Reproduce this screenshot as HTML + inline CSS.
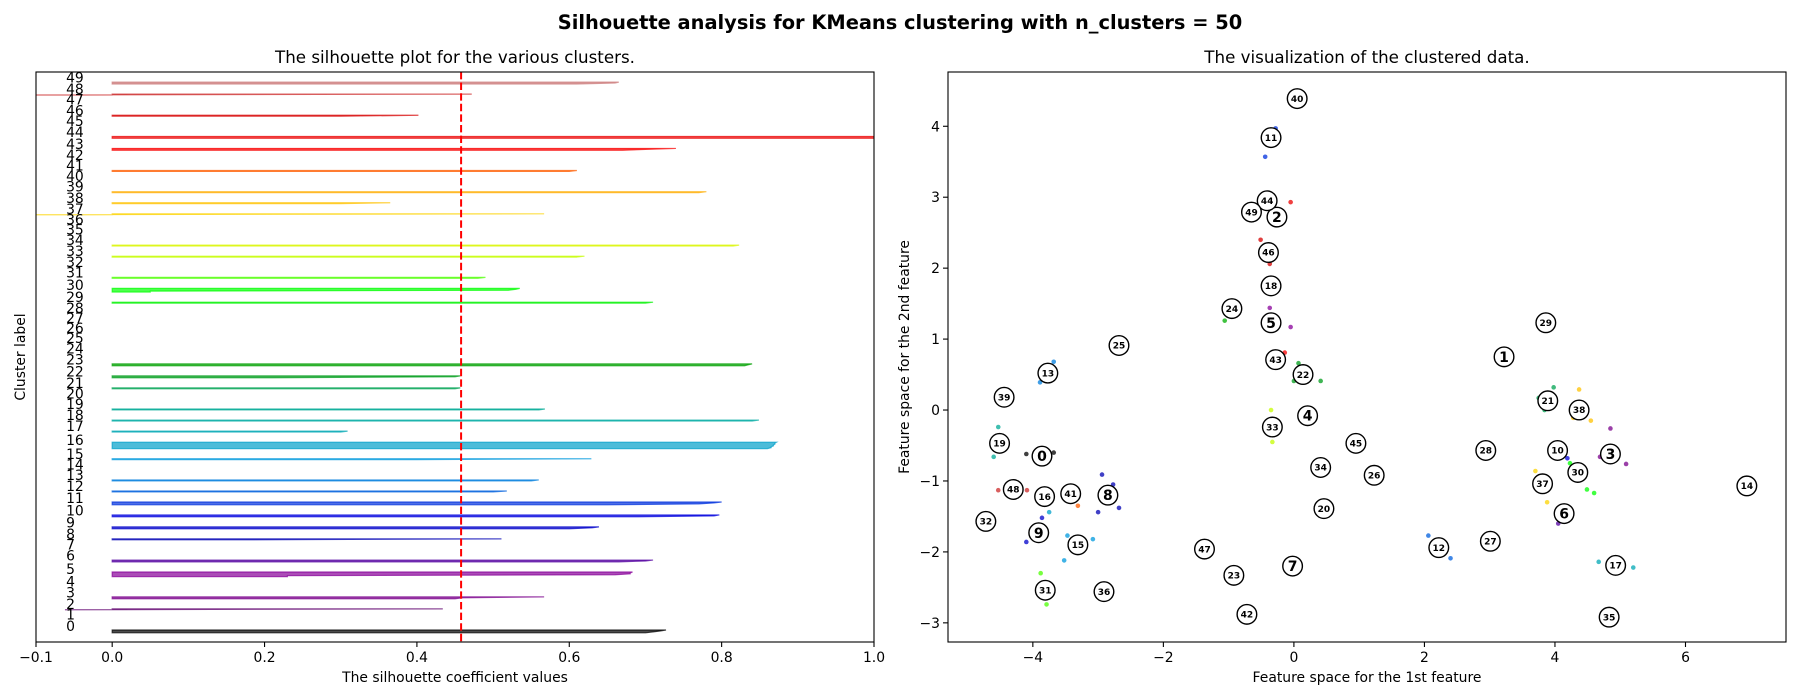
<!DOCTYPE html>
<html><head><meta charset="utf-8"><style>
html,body{margin:0;padding:0;background:#fff;}
svg{display:block;font-family:"DejaVu Sans","Liberation Sans",sans-serif;}
</style></head><body>
<svg id="fig" width="1800" height="700" viewBox="0 0 1800 700" xmlns="http://www.w3.org/2000/svg">
<defs>
<clipPath id="clipL"><rect x="36" y="72" width="838" height="570"/></clipPath>
<clipPath id="clipR"><rect x="948" y="72" width="838" height="570"/></clipPath>
</defs>
<text x="900" y="29" text-anchor="middle" font-size="19.4" font-weight="bold">Silhouette analysis for KMeans clustering with n_clusters = 50</text>
<text x="455" y="63" text-anchor="middle" font-size="16.7">The silhouette plot for the various clusters.</text>
<text x="1367" y="63" text-anchor="middle" font-size="16.7">The visualization of the clustered data.</text>
<g id="left"></g>
<g id="right"></g>
<text x="455" y="682" text-anchor="middle" font-size="13.9">The silhouette coefficient values</text>
<text x="1367" y="682" text-anchor="middle" font-size="13.9">Feature space for the 1st feature</text>
<text transform="translate(25,357) rotate(-90)" text-anchor="middle" font-size="13.9">Cluster label</text>
<text transform="translate(909,357) rotate(-90)" text-anchor="middle" font-size="13.9">Feature space for the 2nd feature</text>
</svg>
<script>
// ---- silhouette data (sorted values per cluster) ----
const clusterIds = [...Array(50).keys()];
const silValues = [
[0.70,0.71,0.72,0.727],[0],[-0.062,0.434],[0.45,0.46,0.567],[0],
[0.23,0.23,0.66,0.68,0.68,0.683],[0.665,0.70,0.71],[0],[0.18,0.511],[0.60,0.63,0.639],
[0.69,0.79,0.797],[0.65,0.77,0.79,0.80],[0.50,0.518],[0.55,0.56],[0],
[0.40,0.629],[0.86,0.865,0.865,0.868,0.868,0.87,0.87,0.872],[0.30,0.309],[0.84,0.849],[0.56,0.568],
[0],[0.45,0.457],[0.21,0.45,0.457],[0.83,0.835,0.84],[0],
[0],[0],[0],[0],[0.70,0.71],
[0.05,0.05,0.52,0.53,0.535],[0.48,0.49],[0],[0.61,0.62],[0.815,0.823],
[0],[0],[-0.1,0.567],[0.30,0.365],[0.77,0.78],
[0],[0.60,0.61],[0],[0.67,0.70,0.74],[1.05,1.05,1.05],
[0],[0.30,0.402],[0],[-0.1,0.472],[0.61,0.66,0.665]
];
const silAverage = 0.458;
const silTicks = [-0.1,0,0.2,0.4,0.6,0.8,1.0];
const silTickLabels = ["\u22120.1","0.0","0.2","0.4","0.6","0.8","1.0"];

// ---- scatter data ----
const centerX = [-3.86,3.22,-0.26,4.85,0.21,-0.35,4.14,-0.02,-2.85,-3.91,4.04,-0.35,2.22,-3.77,6.94,-3.31,-3.82,4.93,-0.35,-4.51,0.46,3.89,0.14,-0.92,-0.95,-2.68,1.23,3.01,2.94,3.86,4.35,-3.81,-4.72,-0.33,0.41,4.83,-2.91,3.81,4.37,-4.44,0.05,-3.42,-0.72,-0.28,-0.41,0.95,-0.39,-1.37,-4.30,-0.65];
const centerY = [-0.65,0.75,2.72,-0.62,-0.08,1.23,-1.46,-2.20,-1.20,-1.73,-0.57,3.84,-1.94,0.52,-1.07,-1.90,-1.22,-2.19,1.75,-0.47,-1.39,0.13,0.50,-2.33,1.43,0.91,-0.92,-1.85,-0.57,1.23,-0.88,-2.54,-1.57,-0.24,-0.81,-2.92,-2.56,-1.04,0.0,0.18,4.39,-1.18,-2.88,0.71,2.95,-0.47,2.22,-1.96,-1.12,2.79];
const pointX = [-0.28,-0.44,-0.05,-0.51,-0.37,-0.37,-0.05,-1.06,-0.14,0.07,0.0,0.41,-3.68,-3.89,-4.53,-4.60,-4.10,-3.68,-0.35,-0.33,-4.53,-4.09,-3.75,-3.86,-4.10,-3.31,-2.94,-2.77,-2.68,-3.0,-3.47,-3.08,-3.52,-3.88,-3.79,2.06,2.40,3.84,4.28,4.37,4.55,4.85,4.69,5.09,4.19,4.23,3.70,3.88,4.49,4.60,4.05,4.67,5.20,3.75,3.98];
const pointY = [3.97,3.57,2.93,2.40,2.06,1.44,1.17,1.26,0.81,0.66,0.41,0.41,0.68,0.39,-0.24,-0.66,-0.62,-0.60,0.0,-0.45,-1.13,-1.13,-1.44,-1.52,-1.86,-1.35,-0.91,-1.05,-1.38,-1.44,-1.77,-1.82,-2.12,-2.30,-2.74,-1.77,-2.09,0.0,-0.11,0.29,-0.15,-0.26,-0.66,-0.76,-0.68,-0.75,-0.86,-1.30,-1.12,-1.17,-1.60,-2.14,-2.22,0.17,0.32];
const pointCluster = [11,11,44,46,46,5,5,24,43,22,22,22,13,13,19,19,0,0,33,33,48,48,16,9,9,41,8,8,8,8,15,15,15,31,31,12,12,21,38,38,38,3,3,3,10,30,37,37,30,30,6,17,17,21,21];
const xTicksR = [-4,-2,0,2,4,6];
const yTicksR = [-3,-2,-1,0,1,2,3,4];

// nipy_spectral colormap
const cmR=[0,0.4667,0.5333,0,0,0,0,0,0,0,0,0,0,0.7333,0.9333,1,1,1,0.8667,0.8,0.8];
const cmG=[0,0,0,0,0,0.4667,0.6,0.6667,0.6667,0.6,0.7333,0.8667,1,1,0.9333,0.8,0.6,0,0,0,0.8];
const cmB=[0,0.5333,0.6,0.6667,0.8667,0.8667,0.8667,0.6667,0.5333,0,0,0,0,0,0,0,0,0,0,0,0.8];
function cmap(t){const f=t*20,i=Math.min(19,Math.floor(f)),r=f-i;
 const c=a=>Math.round(255*(a[i]+(a[i+1]-a[i])*r));return `rgb(${c(cmR)},${c(cmG)},${c(cmB)})`;}

const NS="http://www.w3.org/2000/svg";
function mk(tag,attrs,parent){const e=document.createElementNS(NS,tag);for(const k in attrs)e.setAttribute(k,attrs[k]);parent.appendChild(e);return e;}

// ---------- LEFT ----------
const L=document.getElementById('left');
const LX0=36,LX1=874,TOP=72,BOT=642;
const nTot=silValues.reduce((s,v)=>s+v.length,0);
const yMax=nTot+(50+1)*10;
const xL=v=>LX0+(v+0.1)/1.1*(LX1-LX0);
const yL=u=>BOT-u/yMax*(BOT-TOP);
const gFill=mk('g',{'clip-path':'url(#clipL)'},L);
let yLower=10;
clusterIds.forEach(i=>{
 const vals=silValues[i],s=vals.length,col=cmap(i/50);
 let pts=[];
 vals.forEach((v,j)=>pts.push(xL(v).toFixed(2)+','+yL(yLower+j).toFixed(2)));
 pts.push(xL(0).toFixed(2)+','+yL(yLower+s-1).toFixed(2));
 pts.push(xL(0).toFixed(2)+','+yL(yLower).toFixed(2));
 const p=mk('polygon',{points:pts.join(' '),fill:col,stroke:col,'stroke-width':1.2,'fill-opacity':0.7,'stroke-opacity':0.7},gFill);
 
 
 const t=mk('text',{x:xL(-0.05)-8,y:yL(yLower+0.5*s),'font-size':13.9},L);
 t.textContent=String(i);
 
 
 yLower+=s+10;
});
const avg=mk('line',{x1:xL(silAverage),x2:xL(silAverage),y1:TOP,y2:BOT,stroke:'#ff0000','stroke-width':2,'stroke-dasharray':'7.4,3.2'},L);


const fr=mk('rect',{x:LX0,y:TOP,width:LX1-LX0,height:BOT-TOP,fill:'none',stroke:'#000','stroke-width':1.1},L);


silTicks.forEach((v,k)=>{
 mk('line',{x1:xL(v),x2:xL(v),y1:BOT,y2:BOT+5,stroke:'#000','stroke-width':1.1},L);
 const t=mk('text',{x:xL(v),y:BOT+20,'text-anchor':'middle','font-size':13.9},L);
 t.textContent=silTickLabels[k];
 
 
});

// ---------- RIGHT ----------
const R=document.getElementById('right');
const RX0=948,RX1=1786;
const xMinR=-5.30,xMaxR=7.54,yMinR=-3.27,yMaxR=4.765;
const xR=v=>RX0+(v-xMinR)/(xMaxR-xMinR)*(RX1-RX0);
const yR=v=>BOT-(v-yMinR)/(yMaxR-yMinR)*(BOT-TOP);
const gR=mk('g',{'clip-path':'url(#clipR)'},R);
pointX.forEach((x,k)=>{
 const c=mk('circle',{cx:xR(x),cy:yR(pointY[k]),r:2.3,fill:cmap(pointCluster[k]/50),'fill-opacity':0.75},gR);
 
 
});
centerX.forEach((x,i)=>{
 const cx=xR(x),cy=yR(centerY[i]);
 const c=mk('circle',{cx:cx,cy:cy,r:9.8,fill:'#fff',stroke:'#000','stroke-width':1.4},gR);
 
 
 const big=i<10;
 const t=mk('text',{x:cx,y:cy+(big?5:3.2),'text-anchor':'middle','font-size':big?14:9,'font-weight':'bold'},gR);
 t.textContent=String(i);
 
 
});
const fr2=mk('rect',{x:RX0,y:TOP,width:RX1-RX0,height:BOT-TOP,fill:'none',stroke:'#000','stroke-width':1.1},R);


xTicksR.forEach(v=>{
 mk('line',{x1:xR(v),x2:xR(v),y1:BOT,y2:BOT+5,stroke:'#000','stroke-width':1.1},R);
 const t=mk('text',{x:xR(v),y:BOT+20,'text-anchor':'middle','font-size':13.9},R);
 t.textContent=v<0?'\u2212'+(-v):String(v);
 
 
});
yTicksR.forEach(v=>{
 mk('line',{x1:RX0-5,x2:RX0,y1:yR(v),y2:yR(v),stroke:'#000','stroke-width':1.1},R);
 const t=mk('text',{x:RX0-8,y:yR(v)+5,'text-anchor':'end','font-size':13.9},R);
 t.textContent=v<0?'\u2212'+(-v):String(v);
 
 
});
</script>
</body></html>
